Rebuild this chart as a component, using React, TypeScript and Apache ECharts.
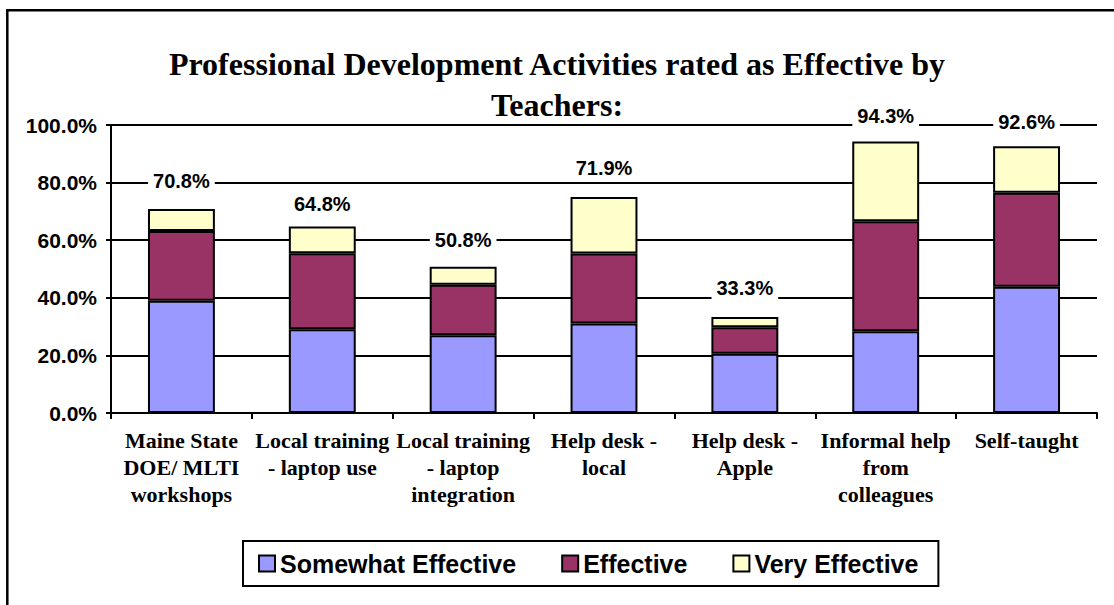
import React, { useEffect, useRef } from "react";
import * as echarts from "echarts";

const categories = [
  "Maine State\nDOE/ MLTI\nworkshops",
  "Local training\n- laptop use",
  "Local training\n- laptop\nintegration",
  "Help desk -\nlocal",
  "Help desk -\nApple",
  "Informal help\nfrom\ncolleagues",
  "Self-taught",
];

const seriesNames = ["Somewhat Effective", "Effective", "Very Effective"];
const somewhatEffective = [39.0, 29.1, 27.0, 31.1, 20.6, 28.4, 43.8];
const effective = [24.2, 26.4, 17.5, 24.3, 9.2, 38.2, 32.7];
const veryEffective = [7.6, 9.3, 6.3, 19.6, 3.5, 27.7, 16.1];

const totalLabels = ["70.8%", "64.8%", "50.8%", "71.9%", "33.3%", "94.3%", "92.6%"];
// vertical anchor of each total label, in axis units
const totalLabelY = [80.4, 72.7, 60.0, 85.2, 43.5, 103.2, 101.1];

const yTickLabels = ["0.0%", "20.0%", "40.0%", "60.0%", "80.0%", "100.0%"];

const titleText = "Professional Development Activities rated as Effective by\nTeachers:";

const colors = ["#9999FF", "#993366", "#FFFFCC"];

export default function App() {
  const ref = useRef<HTMLDivElement>(null);

  useEffect(() => {
    const chart = echarts.init(ref.current!, null, { renderer: "svg" });
    const barSeries = [somewhatEffective, effective, veryEffective].map((d, i) => ({
      name: seriesNames[i],
      type: "bar",
      stack: "total",
      data: d,
      barWidth: "47.5%",
      itemStyle: { color: colors[i], borderColor: "#000", borderWidth: 2 },
      emphasis: { disabled: true },
    }));
    chart.setOption({
      animation: false,
      backgroundColor: "#fff",
      title: {
        text: titleText,
        left: "center",
        top: 43,
        padding: [0, 0, 0, 10],
        textStyle: {
          fontFamily: "'Liberation Serif', 'Times New Roman', serif",
          fontWeight: "bold",
          fontSize: 32,
          lineHeight: 41,
          color: "#000",
        },
      },
      legend: {
        data: seriesNames,
        left: 243,
        top: 541,
        orient: "horizontal",
        itemWidth: 16,
        itemHeight: 16,
        itemGap: 45,
        padding: [10, 20, 10, 15],
        borderColor: "#000",
        borderWidth: 2,
        icon: "rect",
        textStyle: {
          fontFamily: "'Liberation Sans', Arial, sans-serif",
          fontWeight: "bold",
          fontSize: 25,
          color: "#000",
        },
      },
      grid: { left: 111, right: 17, top: 125, bottom: 192, containLabel: false },
      xAxis: {
        type: "category",
        data: categories,
        axisLine: { show: true, lineStyle: { color: "#000", width: 2 } },
        axisTick: { show: true, length: 6, lineStyle: { color: "#000", width: 2 } },
        axisLabel: {
          interval: 0,
          margin: 14,
          color: "#000",
          fontFamily: "'Liberation Serif', 'Times New Roman', serif",
          fontWeight: "bold",
          fontSize: 22,
          lineHeight: 27,
        },
      },
      yAxis: {
        type: "value",
        min: 0,
        max: 100,
        interval: 20,
        axisLine: { show: true, lineStyle: { color: "#000", width: 2 } },
        axisTick: { show: true, length: 5, lineStyle: { color: "#000", width: 2 } },
        splitLine: { show: true, lineStyle: { color: "#000", width: 2 } },
        axisLabel: {
          margin: 14,
          color: "#000",
          fontFamily: "'Liberation Sans', Arial, sans-serif",
          fontWeight: "bold",
          fontSize: 21,
          formatter: (v: number) => yTickLabels[Math.round(v / 20)],
        },
      },
      series: [
        ...barSeries,
        {
          name: "Total",
          type: "scatter",
          data: totalLabelY,
          symbolSize: 1,
          clip: false,
          z: 5,
          itemStyle: { color: "rgba(255,255,255,0)", opacity: 1 },
          label: {
            show: true,
            position: "inside",
            formatter: (p: any) => totalLabels[p.dataIndex],
            backgroundColor: "#fff",
            padding: [2, 5],
            color: "#000",
            opacity: 1,
            textBorderWidth: 0,
            fontFamily: "'Liberation Sans', Arial, sans-serif",
            fontWeight: "bold",
            fontSize: 20,
          },
          emphasis: { disabled: true },
        },
      ],
      graphic: [
        {
          type: "rect",
          silent: true,
          shape: { x: 7.3, y: 10.3, width: 1300, height: 800 },
          style: { fill: "none", stroke: "#000", lineWidth: 2.5 },
        },
      ],
    });
    return () => chart.dispose();
  }, []);

  return (
    <div
      ref={ref}
      style={{ position: "fixed", left: 0, top: 0, width: 1114, height: 605, background: "#fff" }}
    />
  );
}
